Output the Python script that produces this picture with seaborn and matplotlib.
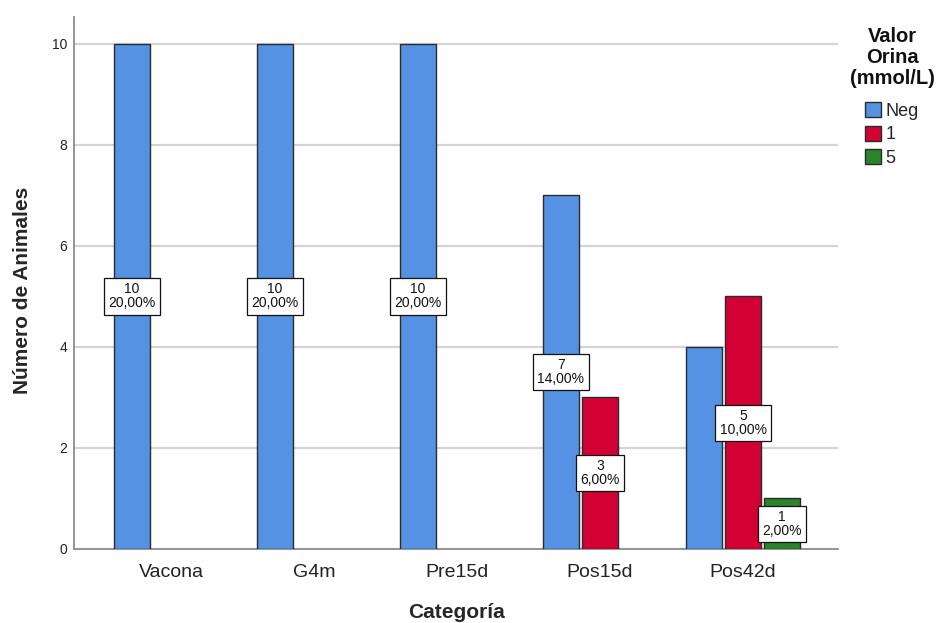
import matplotlib
matplotlib.use("Agg")
import matplotlib.pyplot as plt
import seaborn as sns
import pandas as pd
import numpy as np

# ---- data ----
categories = ["Vacona", "G4m", "Pre15d", "Pos15d", "Pos42d"]
hue_levels = ["Neg", "1", "5"]
neg_counts = [10, 10, 10, 7, 4]
one_counts = [None, None, None, 3, 5]
five_counts = [None, None, None, None, 1]
# which bars carry a value label in the reference (Pos42d/Neg has none)
neg_labeled = [True, True, True, True, False]
one_labeled = [False, False, False, True, True]
five_labeled = [False, False, False, False, True]
y_ticks = [0, 2, 4, 6, 8, 10]
palette = ["#5592E3", "#D30034", "#2B842B"]
legend_title = "Valor\nOrina\n(mmol/L)"

rows = []
for lvl, vals, labs in zip(hue_levels, [neg_counts, one_counts, five_counts],
                           [neg_labeled, one_labeled, five_labeled]):
    for c, v, lb in zip(categories, vals, labs):
        if v is not None:
            rows.append({"Categoría": c, "Valor": lvl, "n": v, "lab": lb})
df = pd.DataFrame(rows)
total = df["n"].sum()

sns.set_theme(style="white")
plt.rcParams["font.family"] = ["Liberation Sans", "DejaVu Sans"]

W, H = 938, 623
fig = plt.figure(figsize=(W / 100, H / 100), dpi=100)
ax = fig.add_axes([74 / W, 1 - 549 / H, 764 / W, 532 / H])

sns.barplot(data=df, x="Categoría", y="n", hue="Valor", order=categories,
            hue_order=hue_levels, palette=palette, width=0.82, gap=0.08,
            edgecolor="#2b2b2b", linewidth=1.0, saturation=1, errorbar=None,
            ax=ax, zorder=3)

ax.set_xlim(-0.678, 4.664)
ax.set_ylim(0, 10.53)
ax.set_yticks(y_ticks)
ax.set_yticklabels([str(t) for t in y_ticks])
ax.yaxis.grid(True, color="#d4d4d4", linewidth=1.6, zorder=0)
ax.xaxis.grid(False)
ax.set_axisbelow(True)
for s in ["top", "right"]:
    ax.spines[s].set_visible(False)
for s in ["left", "bottom"]:
    ax.spines[s].set_color("#8c8c8c")
    ax.spines[s].set_linewidth(1.3)
ax.tick_params(axis="both", length=0)
ax.tick_params(axis="x", labelsize=14, pad=10.5, labelcolor="#222222")
ax.tick_params(axis="y", labelsize=10, pad=5, labelcolor="#222222")

ax.set_xlabel("Categoría", fontsize=15, fontweight="bold", va="top")
ax.xaxis.set_label_coords(0.5, -0.102)
ax.set_ylabel("Número de Animales", fontsize=15, fontweight="bold")
ax.yaxis.set_label_coords(-0.055, 0.487)

# value labels
for container, lvl in zip(ax.containers, hue_levels):
    sub = df[df["Valor"] == lvl].set_index("Categoría")
    for bar, cat in zip(container, sub.index):
        h = bar.get_height()
        if np.isnan(h) or not sub.loc[cat, "lab"]:
            continue
        x = bar.get_x() + bar.get_width() / 2
        pct = f"{h / total * 100:.2f}".replace(".", ",") + "%"
        ax.text(x, h / 2, f"{int(round(h))}\n{pct}", ha="center", va="center",
                fontsize=10, linespacing=1.0, color="#111111", zorder=6,
                bbox=dict(boxstyle="square,pad=0.3", fc="white", ec="#111111", lw=0.9))

# legend
leg = ax.get_legend()
if leg is not None:
    leg.remove()
handles, labels = ax.get_legend_handles_labels()
fig.text(892 / W, 1 - 27 / H, legend_title, ha="center", va="top",
         fontsize=14.5, fontweight="bold", linespacing=1.15, color="#111111")
fig.legend(handles, labels, loc="upper left", bbox_to_anchor=(865 / W, 1 - 102 / H),
           frameon=False, fontsize=13, handlelength=0.9, handleheight=0.9,
           handletextpad=0.25, labelspacing=0.33, borderpad=0, borderaxespad=0)

fig.savefig("out.png", dpi=100)
